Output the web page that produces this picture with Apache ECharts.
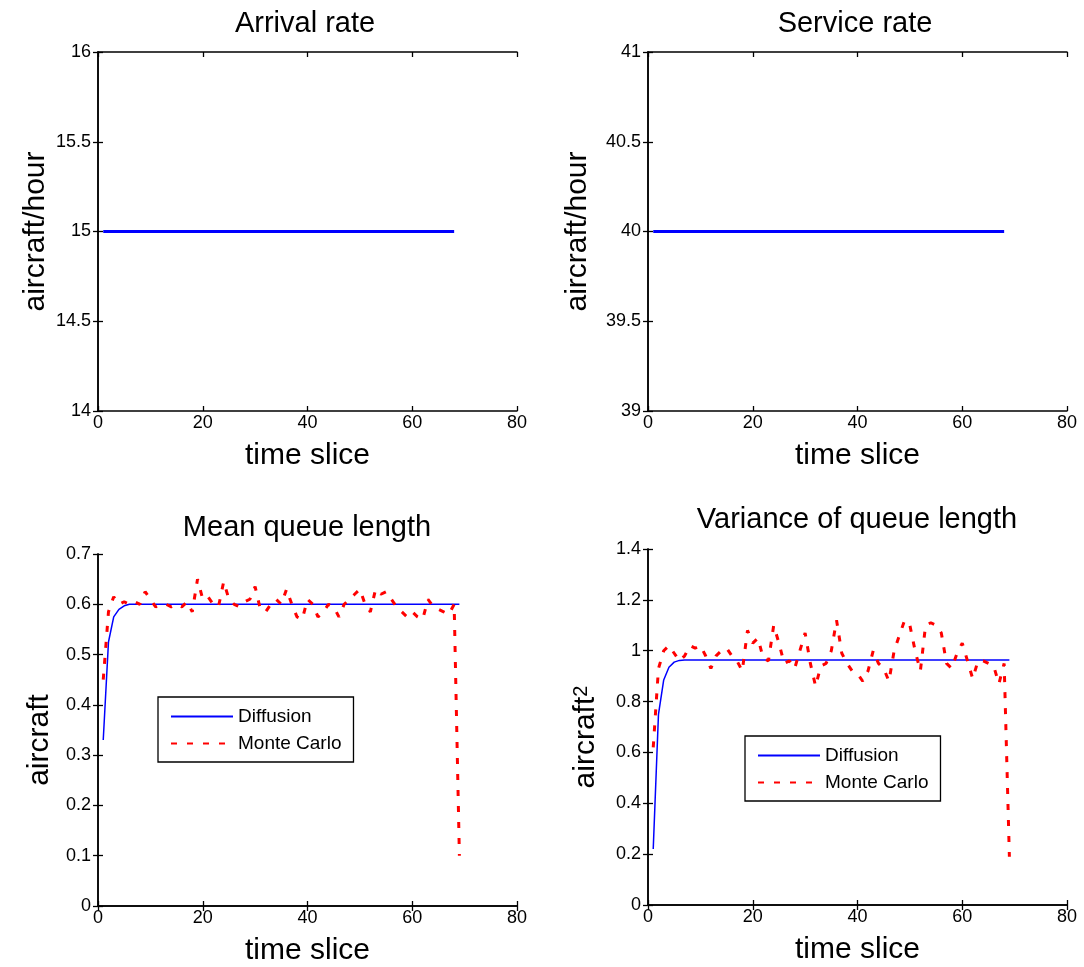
<!DOCTYPE html>
<html>
<head>
<meta charset="utf-8">
<script src="https://cdn.jsdelivr.net/npm/echarts@6/dist/echarts.min.js"></script>
<style>
html,body{margin:0;padding:0;background:#fff;}
#chart{width:1084px;height:967px;}
</style>
</head>
<body>
<div id="chart"></div>
<script>
// ---- data ----
const timeSlice = [1,2,3,4,5,6,7,8,9,10,11,12,13,14,15,16,17,18,19,20,21,22,23,24,25,26,27,28,29,30,31,32,33,34,35,36,37,38,39,40,41,42,43,44,45,46,47,48,49,50,51,52,53,54,55,56,57,58,59,60,61,62,63,64,65,66,67,68,69];

const arrivalRate = [15,15,15,15,15,15,15,15,15,15,15,15,15,15,15,15,15,15,15,15,15,15,15,15,15,15,15,15,15,15,15,15,15,15,15,15,15,15,15,15,15,15,15,15,15,15,15,15,15,15,15,15,15,15,15,15,15,15,15,15,15,15,15,15,15,15,15,15];

const serviceRate = [40,40,40,40,40,40,40,40,40,40,40,40,40,40,40,40,40,40,40,40,40,40,40,40,40,40,40,40,40,40,40,40,40,40,40,40,40,40,40,40,40,40,40,40,40,40,40,40,40,40,40,40,40,40,40,40,40,40,40,40,40,40,40,40,40,40,40,40];

const meanDiffusion = [0.33,0.525,0.575,0.59,0.597,0.6,0.6,0.6,0.6,0.6,0.6,0.6,0.6,0.6,0.6,0.6,0.6,0.6,0.6,0.6,0.6,0.6,0.6,0.6,0.6,0.6,0.6,0.6,0.6,0.6,0.6,0.6,0.6,0.6,0.6,0.6,0.6,0.6,0.6,0.6,0.6,0.6,0.6,0.6,0.6,0.6,0.6,0.6,0.6,0.6,0.6,0.6,0.6,0.6,0.6,0.6,0.6,0.6,0.6,0.6,0.6,0.6,0.6,0.6,0.6,0.6,0.6,0.6,0.6];

const meanMonteCarlo = [0.45,0.585,0.615,0.60,0.605,0.60,0.605,0.60,0.625,0.61,0.595,0.60,0.60,0.595,0.60,0.595,0.605,0.585,0.65,0.61,0.615,0.60,0.595,0.645,0.61,0.60,0.595,0.605,0.61,0.635,0.59,0.585,0.60,0.61,0.60,0.63,0.60,0.575,0.57,0.61,0.60,0.575,0.585,0.60,0.595,0.575,0.60,0.61,0.62,0.63,0.60,0.585,0.63,0.62,0.625,0.61,0.595,0.585,0.575,0.585,0.575,0.57,0.61,0.595,0.59,0.585,0.58,0.60,0.10];

const varDiffusion = [0.22,0.75,0.885,0.935,0.955,0.962,0.963,0.963,0.963,0.963,0.963,0.963,0.963,0.963,0.963,0.963,0.963,0.963,0.963,0.963,0.963,0.963,0.963,0.963,0.963,0.963,0.963,0.963,0.963,0.963,0.963,0.963,0.963,0.963,0.963,0.963,0.963,0.963,0.963,0.963,0.963,0.963,0.963,0.963,0.963,0.963,0.963,0.963,0.963,0.963,0.963,0.963,0.963,0.963,0.963,0.963,0.963,0.963,0.963,0.963,0.963,0.963,0.963,0.963,0.963,0.963,0.963,0.963,0.963];

const varMonteCarlo = [0.62,0.93,1.0,1.02,0.99,0.96,0.98,1.02,1.01,1.02,0.98,0.93,0.98,1.0,1.01,0.98,0.96,0.92,1.08,1.03,1.05,0.97,0.96,1.1,1.03,0.95,0.96,0.93,1.0,1.07,0.95,0.86,0.94,0.95,1.0,1.12,0.99,0.95,0.92,0.91,0.88,0.92,1.0,0.95,0.93,0.88,1.0,1.06,1.12,1.1,1.0,0.92,1.1,1.11,1.1,1.07,0.95,0.93,0.99,1.03,0.96,0.89,0.96,0.96,0.95,0.94,0.87,0.95,0.19];

const panelTitles = ['Arrival rate','Service rate','Mean queue length','Variance of queue length'];
const xTickRange = {min:0, max:80, interval:20};
const yTickRanges = [
  {min:14, max:16, interval:0.5},
  {min:39, max:41, interval:0.5},
  {min:0, max:0.7, interval:0.1},
  {min:0, max:1.4, interval:0.2}
];
const xAxisTitle = 'time slice';
const yAxisTitles = ['aircraft/hour','aircraft/hour','aircraft','{a|aircraft}{s|2}'];
const seriesNames = ['Diffusion','Monte Carlo'];

// ---- chart ----
const FONT = '"Liberation Sans", Arial, Helvetica, sans-serif';
const pairs = (xs, ys) => ys.map((v, i) => [xs[i], v]);

const grids = [
  {left:98, top:52, width:419, height:359},
  {left:648, top:52, width:419, height:359},
  {left:98, top:554, width:419, height:352},
  {left:648, top:549, width:419, height:356}
];

const lineAxis = {show:true, lineStyle:{color:'#000', width:1.5}};
const tickIn = {show:true, inside:true, length:5, lineStyle:{color:'#000', width:1.3}};
const lbl = {color:'#000', fontSize:18, fontFamily:FONT};
const yNameGaps = [47, 55, 43, 47];
const yNamePads = [[0,0,0,0],[0,0,0,0],[0,20,0,0],[0,20,0,0]];

const xAxes = [], yAxes = [];
for (let g = 0; g < 4; g++) {
  xAxes.push(Object.assign({
    type:'value', gridIndex:g, position:'bottom',
    axisLine:lineAxis, axisTick:tickIn, splitLine:{show:false},
    axisLabel:Object.assign({margin:3}, lbl),
    name:xAxisTitle, nameLocation:'middle', nameGap:30,
    nameTextStyle:{color:'#000', fontSize:30, fontFamily:FONT}
  }, xTickRange));
  yAxes.push(Object.assign({
    type:'value', gridIndex:g, position:'left',
    axisLine:lineAxis, axisTick:tickIn, splitLine:{show:false},
    axisLabel:Object.assign({margin:7}, lbl),
    name:yAxisTitles[g], nameLocation:'middle', nameRotate:90,
    nameGap: yNameGaps[g],
    nameTextStyle:{color:'#000', fontSize:30, fontFamily:FONT, padding:yNamePads[g],
      rich:{a:{fontSize:30, fontFamily:FONT, color:'#000'}, s:{fontSize:20, fontFamily:FONT, color:'#000', verticalAlign:'top'}}}
  }, yTickRanges[g]));
}
for (let g = 0; g < 4; g++) {
  xAxes.push(Object.assign({
    type:'value', gridIndex:g, position:'top',
    axisLine:lineAxis, axisTick:tickIn, splitLine:{show:false}, axisLabel:{show:false}
  }, xTickRange));
  yAxes.push(Object.assign({
    type:'value', gridIndex:g, position:'right',
    axisLine:lineAxis, axisTick:tickIn, splitLine:{show:false}, axisLabel:{show:false}
  }, yTickRanges[g]));
}

const titleCenters = [300, 850, 302, 852];
const titleTops = [4, 4, 508, 500];
const titles = panelTitles.map((t, i) => ({
  text:t, left:titleCenters[i], top:titleTops[i], textAlign:'center',
  textStyle:{color:'#000', fontSize:29, fontWeight:'normal', fontFamily:FONT}
}));

const blue = '#0000ff', red = '#ff0000';
const series = [
  {name:'Arrival rate', type:'line', xAxisIndex:0, yAxisIndex:0, symbol:'none', data:pairs(timeSlice, arrivalRate), lineStyle:{color:blue, width:3}, itemStyle:{color:blue}},
  {name:'Service rate', type:'line', xAxisIndex:1, yAxisIndex:1, symbol:'none', data:pairs(timeSlice, serviceRate), lineStyle:{color:blue, width:3}, itemStyle:{color:blue}},
  {name:seriesNames[0], type:'line', xAxisIndex:2, yAxisIndex:2, symbol:'none', data:pairs(timeSlice, meanDiffusion), lineStyle:{color:blue, width:1.5}, itemStyle:{color:blue}},
  {name:seriesNames[1], type:'line', xAxisIndex:2, yAxisIndex:2, symbol:'none', data:pairs(timeSlice, meanMonteCarlo), lineStyle:{color:red, width:3, type:[6,10]}, itemStyle:{color:red}},
  {name:seriesNames[0], type:'line', xAxisIndex:3, yAxisIndex:3, symbol:'none', data:pairs(timeSlice, varDiffusion), lineStyle:{color:blue, width:1.5}, itemStyle:{color:blue}},
  {name:seriesNames[1], type:'line', xAxisIndex:3, yAxisIndex:3, symbol:'none', data:pairs(timeSlice, varMonteCarlo), lineStyle:{color:red, width:3, type:[6,10]}, itemStyle:{color:red}}
];

const legendBase = {
  orient:'vertical', data:seriesNames, selectedMode:false,
  borderColor:'#000', borderWidth:1.3, borderRadius:0, backgroundColor:'#fff',
  padding:[10,12,9,12], itemWidth:62, itemHeight:14, itemGap:8,
  itemStyle:{opacity:0},
  textStyle:{color:'#000', fontSize:19, fontFamily:FONT}
};

const option = {
  animation:false,
  backgroundColor:'#fff',
  title:titles,
  grid:grids,
  xAxis:xAxes,
  yAxis:yAxes,
  legend:[
    Object.assign({left:158, top:697}, legendBase),
    Object.assign({left:745, top:736}, legendBase)
  ],
  series:series
};

const chart = echarts.init(document.getElementById('chart'), null, {renderer:'canvas'});
chart.setOption(option);
</script>
</body>
</html>
